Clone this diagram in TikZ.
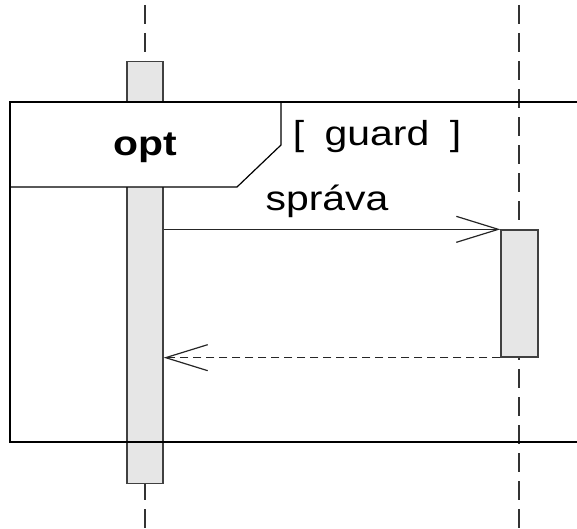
\documentclass[tikz,border=0pt]{standalone}
\usepackage{fontspec}
\setmainfont{Liberation Sans}
\usetikzlibrary{arrows.meta}
\definecolor{actfill}{HTML}{E6E6E6}
\definecolor{actline}{HTML}{404040}
\definecolor{lifecol}{HTML}{333333}
\newcommand\wtext[1]{\scalebox{1.18}[1]{#1}}
\begin{document}
\begin{tikzpicture}[x=0.75pt,y=-0.75pt,
  lifeline/.style={draw=lifecol, line width=1pt, dash pattern=on 14.25pt off 6.75pt},
  actbox/.style={draw=actline, fill=actfill, line width=1pt, inner sep=0pt},
  frameline/.style={draw=black, line width=0.9pt},
  lbl/.style={anchor=base, inner sep=0pt, font=\fontsize{26}{30}\selectfont},
  msg/.style={draw=black!85, line width=0.9pt, -{Straight Barb[length=31.5pt,width=19.5pt]}},
  ]
\useasboundingbox (0,0) rectangle (577,528);
\coordinate (l1top) at (145,5);
\coordinate (l1bot) at (145,528);
\coordinate (l2top) at (519,5);
\coordinate (l2bot) at (519,528);
\draw[lifeline] (l1top) -- (l1bot);
\draw[lifeline] (l2top) -- (l2bot);
\node[actbox, minimum width=27pt, minimum height=316.5pt] (act1) at (145,272.5) {};
% frame
\draw[frameline, fill=white] (10,102) -- (281,102) -- (281,145) -- (237,187) -- (10,187);
\draw[frameline] (577,102) -- (10,102) -- (10,442) -- (577,442);
\node[lbl, font=\fontsize{26}{30}\selectfont\bfseries] (optlbl) at (145,155) {\wtext{opt}};
\node[lbl] (guardlbl) at (377,145) {\wtext{[\hspace{0.5em}guard\hspace{0.5em}]}};
\node[actbox, minimum width=27.75pt, minimum height=95.25pt] (act2) at (519.5,293.5) {};
\node[lbl] (msglbl) at (327,210) {\wtext{správa}};
\draw[msg] (act1.east |- act2.north west) -- (act2.north west);
\draw[msg, dash pattern=on 6pt off 3.75pt] (act2.south west) -- (act1.east |- act2.south west);
\end{tikzpicture}
\end{document}
